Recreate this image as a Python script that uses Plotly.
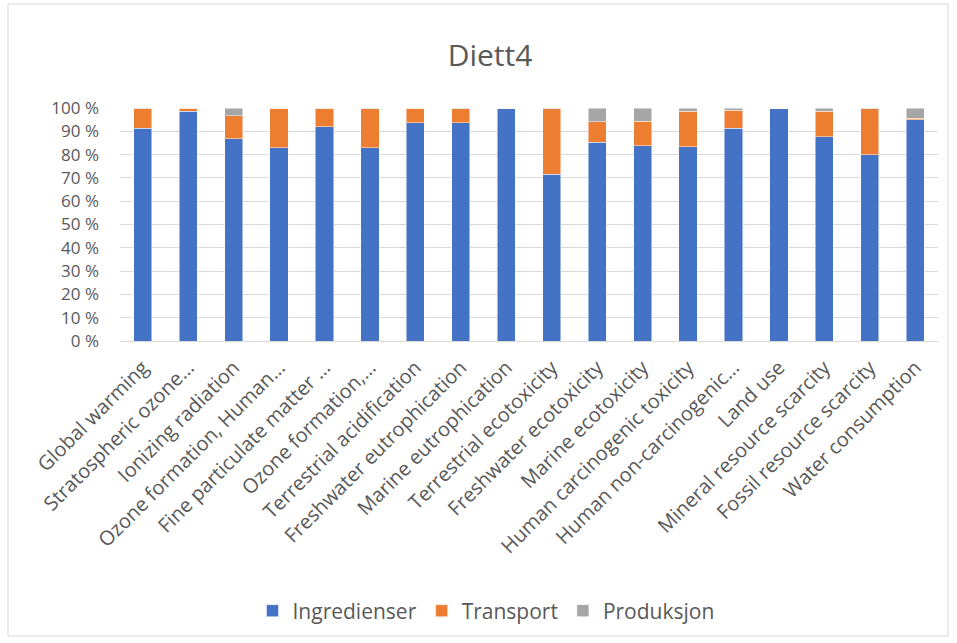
import plotly.graph_objects as go

categories = [
    "Global warming", "Stratospheric ozone…", "Ionizing radiation",
    "Ozone formation, Human…", "Fine particulate matter …", "Ozone formation,…",
    "Terrestrial acidification", "Freshwater eutrophication", "Marine eutrophication",
    "Terrestrial ecotoxicity", "Freshwater ecotoxicity", "Marine ecotoxicity",
    "Human carcinogenic toxicity", "Human non-carcinogenic…", "Land use",
    "Mineral resource scarcity", "Fossil resource scarcity", "Water consumption",
]

ingredienser = [91.4, 98.7, 86.9, 83.0, 91.9, 83.0, 93.7, 93.7, 99.7,
                71.5, 85.3, 83.7, 83.3, 91.4, 99.6, 87.6, 80.0, 94.9]
transport = [8.3, 1.1, 9.8, 16.8, 7.9, 16.7, 6.1, 5.9, 0.2,
             28.1, 8.7, 10.6, 15.3, 7.7, 0.3, 11.1, 19.7, 0.7]
produksjon = [round(100 - a - b, 1) for a, b in zip(ingredienser, transport)]

ytick_vals = list(range(0, 101, 10))
ytick_text = [f"{v} %" for v in ytick_vals]

series = [
    ("Ingredienser", ingredienser, "#4472C4"),
    ("Transport", transport, "#ED7D31"),
    ("Produksjon", produksjon, "#A5A5A5"),
]

text_color = "#595959"
font_family = "Open Sans, Noto Sans, sans-serif"

fig = go.Figure()
for name, vals, color in series:
    fig.add_trace(go.Bar(
        name=name, x=categories, y=vals,
        marker=dict(color=color, line=dict(color="rgba(255,255,255,0.6)", width=0.8)),
    ))

W, H = 957, 643
ml, mr, mt, mb = 120, 19, 108, 302
pw, ph = W - ml - mr, H - mt - mb

def px_x(x):
    return (x - ml) / pw

def px_y(y):
    return (H - mb - y) / ph

fig.update_layout(
    width=W, height=H,
    barmode="stack", bargap=0.6,
    margin=dict(l=ml, r=mr, t=mt, b=mb),
    paper_bgcolor="white", plot_bgcolor="white",
    font=dict(family=font_family, color=text_color, size=18),
    title=dict(text="Diett4", x=px_x(490), xref="paper", xanchor="center",
               y=1 - 55 / H, yanchor="middle",
               font=dict(size=30, color=text_color, family=font_family)),
    xaxis=dict(
        tickangle=-45, tickfont=dict(size=20, color=text_color),
        showline=True, linecolor="#D9D9D9", linewidth=1,
        ticks="", showgrid=False, ticklabelstandoff=6,
    ),
    yaxis=dict(
        range=[0, 100], tickvals=ytick_vals, ticktext=ytick_text,
        tickfont=dict(size=17, color=text_color),
        showgrid=True, gridcolor="#D9D9D9", gridwidth=1,
        zeroline=False, ticks="", ticklabelstandoff=20,
    ),
    legend=dict(
        orientation="h", x=px_x(486), xanchor="center",
        y=px_y(611), yanchor="middle",
        font=dict(size=21, color=text_color),
        traceorder="normal", itemwidth=30,
    ),
    shapes=[dict(
        type="rect", xref="paper", yref="paper",
        x0=px_x(8), x1=px_x(948), y0=px_y(636), y1=px_y(4),
        line=dict(color="#D9D9D9", width=1), fillcolor="rgba(0,0,0,0)",
        layer="below",
    )],
)

fig.write_html("out.html")
